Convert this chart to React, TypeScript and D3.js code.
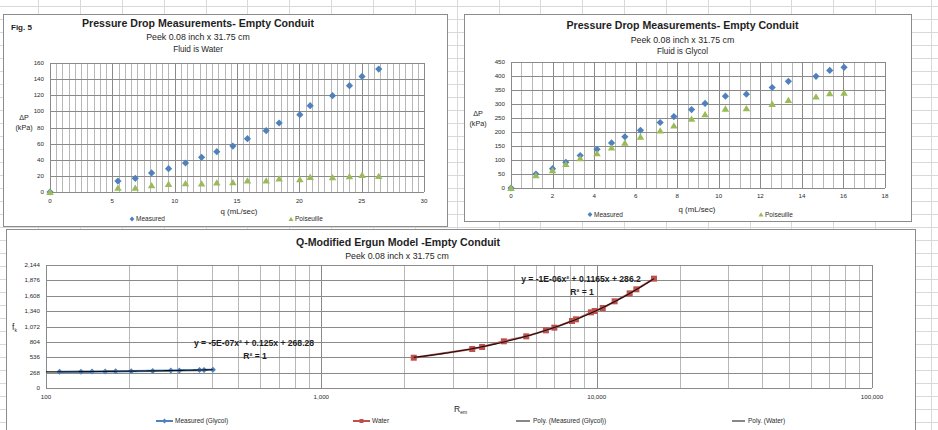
import React from 'react';
import * as d3 from 'd3';

const FONT = "'Liberation Sans', Arial, sans-serif";
const BLUE = '#4F81BD';
const GREEN = '#9BBB59';
const RED = '#C0504D';

// Water run: flow rate (mL/sec) vs pressure drop (kPa)
const waterQ = [0, 5.45, 6.84, 8.15, 9.51, 10.87, 12.16, 13.38, 14.67, 15.84, 17.34, 18.38, 20.04, 20.87, 22.66, 24.02, 25.03, 26.37];
const waterMeasured = [0, 13.6, 16.9, 23.6, 28.9, 36.0, 43.0, 50.0, 57.0, 66.1, 76.1, 85.6, 95.9, 107.1, 119.5, 131.9, 143.4, 152.5];
const waterPoiseuille = [0, 5.0, 5.0, 8.3, 9.9, 10.7, 10.3, 11.6, 12.0, 14.1, 14.1, 16.5, 15.7, 18.6, 18.2, 19.4, 21.1, 19.8];
const waterQTicks = [0, 5, 10, 15, 20, 25, 30];
const waterDpTicks = [0, 20, 40, 60, 80, 100, 120, 140, 160];

// Glycol run
const glycolQ = [0, 1.2, 2.0, 2.64, 3.33, 4.14, 4.84, 5.48, 6.23, 7.18, 7.84, 8.69, 9.34, 10.32, 11.33, 12.57, 13.35, 14.68, 15.34, 16.03];
const glycolMeasured = [0, 50, 69, 92, 116, 138, 161, 183, 206, 234, 255, 280, 302, 328, 335, 359, 381, 399, 420, 431];
const glycolPoiseuille = [0, 45, 63, 85, 106, 124, 144, 161, 183, 205, 223, 247, 263, 283, 284, 300, 314, 326, 338, 340];
const glycolQTicks = [0, 2, 4, 6, 8, 10, 12, 14, 16, 18];
const glycolDpTicks = [0, 50, 100, 150, 200, 250, 300, 350, 400, 450];

// Q-modified Ergun model: modified Reynolds number vs friction factor
const ergunGlycolRe = [112, 134, 147, 164, 179, 204, 244, 284, 305, 361, 375, 404];
const ergunGlycolF = [282, 285, 287, 289, 291, 294, 298, 304, 306, 313, 315, 318];
const ergunWaterRe = [2166, 3532, 3837, 4602, 5549, 6540, 7019, 8134, 8409, 9532, 9838, 10520, 11620, 13180, 13940, 16150];
const ergunWaterF = [528, 680, 715, 814, 900, 1005, 1052, 1168, 1197, 1319, 1342, 1394, 1511, 1650, 1720, 1906];
const ergunReTicks = [100, 1000, 10000, 100000];
const ergunFTicks = [0, 268, 536, 804, 1072, 1340, 1608, 1876, 2144];

// Polynomial trendlines (a x^2 + b x + c) as printed on the chart
const glycolFit = [-5e-7, 0.125, 268.28];
const waterFit = [-1e-6, 0.1165, 286.2];

const MAJOR = '#8a8a8a';
const MINOR = '#b8b8b8';
const FRAME = '#8c8c8c';
const INK = '#1e1e1e';

const diamond = (x: number, y: number, r: number) =>
  `M${x},${y - r}L${x + r},${y}L${x},${y + r}L${x - r},${y}Z`;
const triangle = (x: number, y: number, r: number) =>
  `M${x},${y - r}L${x + r * 1.1},${y + r * 0.85}L${x - r * 1.1},${y + r * 0.85}Z`;

function Sheet() {
  const cols = d3.range(38.15, 900, 41.85).concat([931]);
  const rows = d3.range(6.3, 432, 13);
  return (
    <g stroke="#d9d9d9" strokeWidth={1}>
      {cols.map((c, i) => (
        <line key={'c' + i} x1={Math.round(c) + 0.5} x2={Math.round(c) + 0.5} y1={0} y2={430} />
      ))}
      {rows.map((r, i) => (
        <line key={'r' + i} x1={0} x2={938} y1={Math.round(r) + 0.5} y2={Math.round(r) + 0.5} />
      ))}
    </g>
  );
}

type PanelProps = {
  frame: [number, number, number, number];
  plot: { l: number; r: number; t: number; b: number };
  xMax: number;
  yMax: number;
  xTicks: number[];
  yTicks: number[];
  q: number[];
  measured: number[];
  poiseuille: number[];
  titleX: number;
  titleY: number;
  sub1Y: number;
  sub2Y: number;
  fluid: string;
  yLabelX: number;
  xLabelY: number;
  dpX: number;
  dpY: number;
  xTitleX: number;
  xTitleY: number;
  legendY: number;
  legendA: number;
  legendB: number;
  fig?: boolean;
};

function PressurePanel(p: PanelProps) {
  const x = d3.scaleLinear().domain([0, p.xMax]).range([p.plot.l, p.plot.r]);
  const y = d3.scaleLinear().domain([0, p.yMax]).range([p.plot.b, p.plot.t]);
  const minor = d3.range(0, p.xMax + 0.001, 0.5).filter((v) => !p.xTicks.includes(v));
  const [fx, fy, fw, fh] = p.frame;
  return (
    <g>
      <rect x={fx + 0.5} y={fy + 0.5} width={fw} height={fh} fill="#fff" stroke={FRAME} />
      {p.fig && (
        <text x={fx + 8} y={30} fontSize={8} fontWeight="bold" fill={INK}>Fig. 5</text>
      )}
      <text x={p.titleX} y={p.titleY} fontSize={10.6} fontWeight="bold" textAnchor="middle" fill={INK}>
        Pressure Drop Measurements- Empty Conduit
      </text>
      <text x={p.titleX} y={p.sub1Y} fontSize={8.8} textAnchor="middle" fill={INK}>
        Peek 0.08 inch x 31.75 cm
      </text>
      <text x={p.titleX} y={p.sub2Y} fontSize={8.2} textAnchor="middle" fill={INK}>
        {p.fluid}
      </text>
      <g strokeWidth={1}>
        {minor.map((v) => (
          <line key={'m' + v} x1={Math.round(x(v)) + 0.5} x2={Math.round(x(v)) + 0.5} y1={p.plot.t} y2={p.plot.b} stroke={MINOR} />
        ))}
        {p.xTicks.map((v) => (
          <line key={'x' + v} x1={Math.round(x(v)) + 0.5} x2={Math.round(x(v)) + 0.5} y1={p.plot.t} y2={p.plot.b} stroke={MAJOR} />
        ))}
        {p.yTicks.map((v) => (
          <line key={'y' + v} x1={p.plot.l} x2={p.plot.r} y1={Math.round(y(v)) + 0.5} y2={Math.round(y(v)) + 0.5} stroke={MAJOR} />
        ))}
      </g>
      <g fontSize={6.2} fill="#2a2a2a">
        {p.yTicks.map((v) => (
          <text key={'yl' + v} x={p.yLabelX} y={y(v) + 2} textAnchor="end">{v}</text>
        ))}
        {p.xTicks.map((v) => (
          <text key={'xl' + v} x={x(v)} y={p.xLabelY} textAnchor="middle">{v}</text>
        ))}
      </g>
      <g fontSize={7.2} fill={INK} textAnchor="middle">
        <text x={p.dpX} y={p.dpY}>ΔP</text>
        <text x={p.dpX} y={p.dpY + 10}>(kPa)</text>
      </g>
      <text x={p.xTitleX} y={p.xTitleY} fontSize={7.8} textAnchor="middle" fill={INK}>q (mL/sec)</text>
      {p.q.map((v, i) => (
        <path key={'d' + i} d={diamond(x(v), y(p.measured[i]), 3.6)} fill={BLUE} />
      ))}
      {p.q.map((v, i) => (
        <path key={'p' + i} d={triangle(x(v), y(p.poiseuille[i]), 3.4)} fill={GREEN} />
      ))}
      <g fontSize={6.5} fill="#2a2a2a">
        <path d={diamond(p.legendA, p.legendY - 2, 2.4)} fill={BLUE} />
        <text x={p.legendA + 4} y={p.legendY}>Measured</text>
        <path d={triangle(p.legendB, p.legendY - 2, 2.3)} fill={GREEN} />
        <text x={p.legendB + 4} y={p.legendY}>Poiseuille</text>
      </g>
    </g>
  );
}

function ErgunPanel() {
  const plot = { l: 46, r: 872, t: 265, b: 388 };
  const x = d3.scaleLog().domain([100, 100000]).range([plot.l, plot.r]);
  const y = d3.scaleLinear().domain([0, 2144]).range([plot.b, plot.t]);
  const minor: number[] = [];
  ergunReTicks.slice(0, -1).forEach((d) => {
    for (let k = 2; k <= 9; k++) minor.push(d * k);
  });
  const fmt = d3.format(',');
  const line = d3
    .line<[number, number]>()
    .x((d) => x(d[0]))
    .y((d) => y(d[1]));
  const poly = (c: number[], lo: number, hi: number) =>
    d3.range(0, 81).map((i) => {
      const re = Math.pow(10, Math.log10(lo) + ((Math.log10(hi) - Math.log10(lo)) * i) / 80);
      return [re, c[0] * re * re + c[1] * re + c[2]] as [number, number];
    });
  const glycolPts = ergunGlycolRe.map((r, i) => [r, ergunGlycolF[i]] as [number, number]);
  const waterPts = ergunWaterRe.map((r, i) => [r, ergunWaterF[i]] as [number, number]);
  const glycolTrend = poly(glycolFit, 100, ergunGlycolRe[ergunGlycolRe.length - 1]);
  const waterTrend = poly(waterFit, ergunWaterRe[0], ergunWaterRe[ergunWaterRe.length - 1]);
  const legY = 423;
  return (
    <g>
      <rect x={6.5} y={229.5} width={909} height={220} fill="#fff" stroke={FRAME} />
      <text x={398} y={245.5} fontSize={10.6} fontWeight="bold" textAnchor="middle" fill={INK}>
        Q-Modified Ergun Model -Empty Conduit
      </text>
      <text x={397} y={258.5} fontSize={8.8} textAnchor="middle" fill={INK}>
        Peek 0.08 inch x 31.75 cm
      </text>
      <g strokeWidth={1}>
        {minor.map((v) => (
          <line key={'m' + v} x1={Math.round(x(v)) + 0.5} x2={Math.round(x(v)) + 0.5} y1={plot.t} y2={plot.b} stroke={MINOR} />
        ))}
        {ergunReTicks.map((v) => (
          <line key={'x' + v} x1={Math.round(x(v)) + 0.5} x2={Math.round(x(v)) + 0.5} y1={plot.t} y2={plot.b} stroke={MAJOR} />
        ))}
        {ergunFTicks.map((v) => (
          <line key={'y' + v} x1={plot.l} x2={plot.r} y1={Math.round(y(v)) + 0.5} y2={Math.round(y(v)) + 0.5} stroke={MAJOR} />
        ))}
      </g>
      <g fontSize={6.2} fill="#2a2a2a">
        {ergunFTicks.map((v) => (
          <text key={'yl' + v} x={40} y={y(v) + 2} textAnchor="end">{fmt(v)}</text>
        ))}
        {ergunReTicks.map((v) => (
          <text key={'xl' + v} x={x(v)} y={399} textAnchor="middle">{fmt(v)}</text>
        ))}
      </g>
      <text x={12} y={330} fontSize={8.5} fill={INK}>
        f<tspan fontSize={5} dy={1.5}>k</tspan>
      </text>
      <text x={454} y={412} fontSize={8.5} fill={INK}>
        R<tspan fontSize={5} dy={1.5}>em</tspan>
      </text>
      <path d={line(glycolPts) || ''} fill="none" stroke={BLUE} strokeWidth={2.2} />
      {glycolPts.map((d, i) => (
        <path key={'g' + i} d={diamond(x(d[0]), y(d[1]), 3)} fill={BLUE} />
      ))}
      <path d={line(glycolTrend) || ''} fill="none" stroke="#111" strokeWidth={1.1} />
      <path d={line(waterPts) || ''} fill="none" stroke={RED} strokeWidth={2} />
      {waterPts.map((d, i) => (
        <rect key={'w' + i} x={x(d[0]) - 3} y={y(d[1]) - 3} width={6} height={6} fill={RED} />
      ))}
      <path d={line(waterTrend) || ''} fill="none" stroke="#111" strokeWidth={1.1} />
      <g fontSize={8.6} fontWeight="bold" fill={INK} textAnchor="middle">
        <text x={254} y={345.5}>y = -5E-07x² + 0.125x + 268.28</text>
        <text x={255} y={358.5}>R² = 1</text>
        <text x={581} y={282}>y = -1E-06x² + 0.1165x + 286.2</text>
        <text x={582} y={295}>R² = 1</text>
      </g>
      <g fontSize={6.5} fill="#2a2a2a">
        <line x1={156} x2={173} y1={legY - 2} y2={legY - 2} stroke={BLUE} strokeWidth={2} />
        <path d={diamond(164.5, legY - 2, 2.4)} fill={BLUE} />
        <text x={175} y={legY}>Measured (Glycol)</text>
        <line x1={353} x2={370} y1={legY - 2} y2={legY - 2} stroke={RED} strokeWidth={2} />
        <rect x={359.5} y={legY - 4} width={4} height={4} fill={RED} />
        <text x={372} y={legY}>Water</text>
        <line x1={516} x2={530} y1={legY - 2} y2={legY - 2} stroke="#111" strokeWidth={1} />
        <text x={533} y={legY}>Poly. (Measured (Glycol))</text>
        <line x1={732} x2={745} y1={legY - 2} y2={legY - 2} stroke="#111" strokeWidth={1} />
        <text x={748} y={legY}>Poly. (Water)</text>
      </g>
    </g>
  );
}

export default function App() {
  return (
    <svg
      width={938}
      height={430}
      style={{ position: 'absolute', left: 0, top: 0 }}
      fontFamily={FONT}
    >
      <rect width={938} height={430} fill="#fff" />
      <Sheet />
      <PressurePanel
        frame={[3, 14, 444, 212]}
        plot={{ l: 50, r: 424, t: 63, b: 192 }}
        xMax={30}
        yMax={160}
        xTicks={waterQTicks}
        yTicks={waterDpTicks}
        q={waterQ}
        measured={waterMeasured}
        poiseuille={waterPoiseuille}
        titleX={198}
        titleY={27}
        sub1Y={40}
        sub2Y={52}
        fluid="Fluid is Water"
        yLabelX={44}
        xLabelY={203}
        dpX={24}
        dpY={120}
        xTitleX={239}
        xTitleY={214}
        legendY={221}
        legendA={132}
        legendB={291}
        fig
      />
      <PressurePanel
        frame={[464, 14, 447, 207]}
        plot={{ l: 511, r: 885, t: 62, b: 188 }}
        xMax={18}
        yMax={450}
        xTicks={glycolQTicks}
        yTicks={glycolDpTicks}
        q={glycolQ}
        measured={glycolMeasured}
        poiseuille={glycolPoiseuille}
        titleX={682.5}
        titleY={28.5}
        sub1Y={43}
        sub2Y={53.5}
        fluid="Fluid is Glycol"
        yLabelX={505}
        xLabelY={198}
        dpX={478}
        dpY={115.5}
        xTitleX={697}
        xTitleY={211.5}
        legendY={216.5}
        legendA={590}
        legendB={761}
      />
      <ErgunPanel />
    </svg>
  );
}
